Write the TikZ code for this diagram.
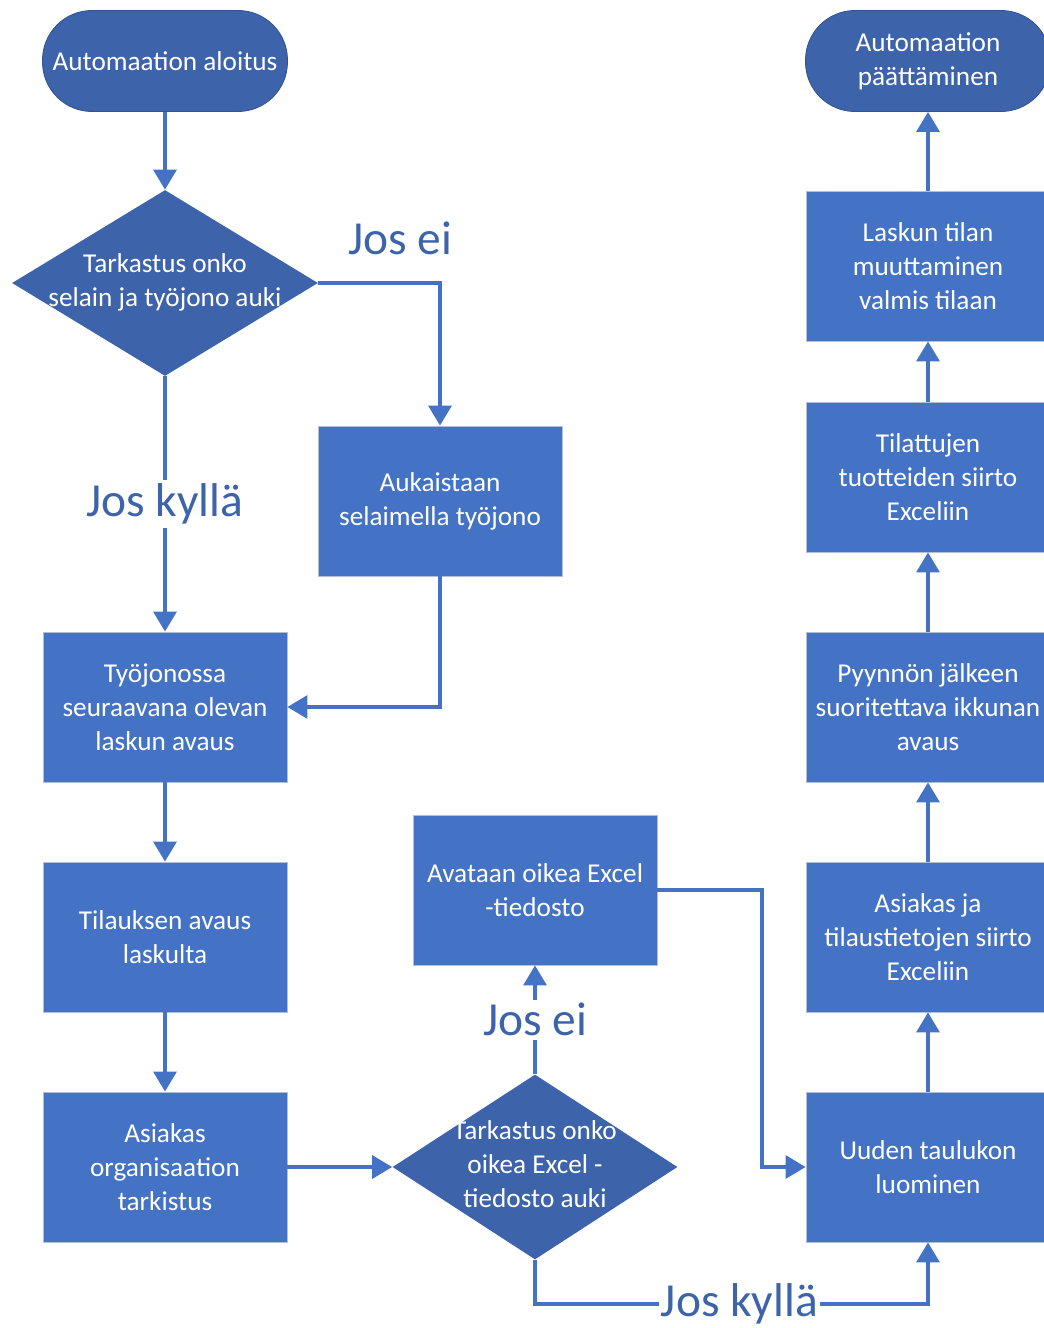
\documentclass[tikz,border=0pt]{standalone}
\usepackage{fontspec}
\setmainfont{Carlito}
\usetikzlibrary{shapes.geometric,arrows.meta}

\definecolor{boxblue}{RGB}{68,114,196}
\definecolor{darkblue}{RGB}{61,99,171}
\definecolor{edgegray}{RGB}{176,190,218}

\newcommand\boxfont{\fontsize{15.5}{19.3}\selectfont}
\newcommand\dtext[1]{\makebox[0pt]{\raisebox{-1.8pt}{\begin{tabular}{@{}c@{}}#1\end{tabular}}}}

\tikzset{
    procbox/.style={rectangle, fill=boxblue, draw=edgegray, line width=0.5pt,
        minimum width=4.88cm, minimum height=3cm, inner sep=0pt,
        text=white, align=center, font=\boxfont},
    termbox/.style={rectangle, rounded corners=0.99cm, fill=darkblue,
        draw=darkblue!85!black, line width=0.5pt, minimum width=4.9cm,
        minimum height=2.02cm, inner sep=0pt, text=white, align=center, font=\boxfont},
    decbox/.style={diamond, fill=darkblue, inner sep=0pt, text=white, font=\boxfont},
    conn/.style={draw=boxblue, line width=0.065cm, -{Triangle[width=0.46cm,length=0.4cm]}},
    joslbl/.style={text=darkblue, font=\fontsize{27}{32}\selectfont, inner sep=2pt}
}

\begin{document}
\begin{tikzpicture}[x=0.02cm, y=-0.02cm]
    \useasboundingbox (0,0) rectangle (1044,1328);

    % left column
    \node[termbox] (alku) at (165,61) {Automaation aloitus};
    \node[decbox, minimum width=6.12cm, minimum height=3.72cm] (tarkselain) at (165,283)
        {\dtext{Tarkastus onko\\selain ja työjono auki}};
    \node[procbox] (aukaistaan) at (440,501) {Aukaistaan\\selaimella työjono};
    \node[procbox] (tyojono) at (165,707) {Työjonossa\\seuraavana olevan\\laskun avaus};
    \node[procbox] (tilaus) at (165,937) {Tilauksen avaus\\laskulta};
    \node[procbox] (asiakasorg) at (165,1167) {Asiakas\\organisaation\\tarkistus};

    % middle
    \node[decbox, minimum width=5.7cm, minimum height=3.7cm] (tarkexcel) at (535,1167)
        {\dtext{Tarkastus onko\\oikea Excel -\\tiedosto auki}};
    \node[procbox] (avataan) at (535,890) {Avataan oikea Excel\\-tiedosto};

    % right column
    \node[procbox] (uusitaulu) at (928,1167) {Uuden taulukon\\luominen};
    \node[procbox] (siirto) at (928,937) {Asiakas ja\\tilaustietojen siirto\\Exceliin};
    \node[procbox] (pyynto) at (928,707) {Pyynnön jälkeen\\suoritettava ikkunan\\avaus};
    \node[procbox] (tilatut) at (928,477) {Tilattujen\\tuotteiden siirto\\Exceliin};
    \node[procbox] (laskuntila) at (928,266) {Laskun tilan\\muuttaminen\\valmis tilaan};
    \node[termbox] (loppu) at (928,61) {Automaation\\päättäminen};

    \node[joslbl] (josei1) at (400,238) {Jos ei};
    \coordinate (excelkulma) at (762,1167);
    \coordinate (kyllakulma) at (535,1304);

    \draw[conn] (alku) -- (tarkselain);
    \draw[conn] (tarkselain.east) -| (aukaistaan.north);
    \draw[conn] (tarkselain) -- node[joslbl, fill=white] (joskylla1) {Jos kyllä} (tyojono);
    \draw[conn] (aukaistaan.south) |- (tyojono.east);
    \draw[conn] (tyojono) -- (tilaus);
    \draw[conn] (tilaus) -- (asiakasorg);
    \draw[conn] (asiakasorg) -- (tarkexcel);
    \draw[conn] (tarkexcel) -- node[joslbl, fill=white] (josei2) {Jos ei} (avataan);
    \draw[conn] (avataan.east) -| (excelkulma) -- (uusitaulu.west);
    \draw[conn] (tarkexcel.south) -- (kyllakulma) -| node[pos=0.26, joslbl, fill=white, inner sep=1pt] (joskylla2) {Jos kyllä} (uusitaulu.south);
    \draw[conn] (uusitaulu) -- (siirto);
    \draw[conn] (siirto) -- (pyynto);
    \draw[conn] (pyynto) -- (tilatut);
    \draw[conn] (tilatut) -- (laskuntila);
    \draw[conn] (laskuntila) -- (loppu);
\end{tikzpicture}
\end{document}
